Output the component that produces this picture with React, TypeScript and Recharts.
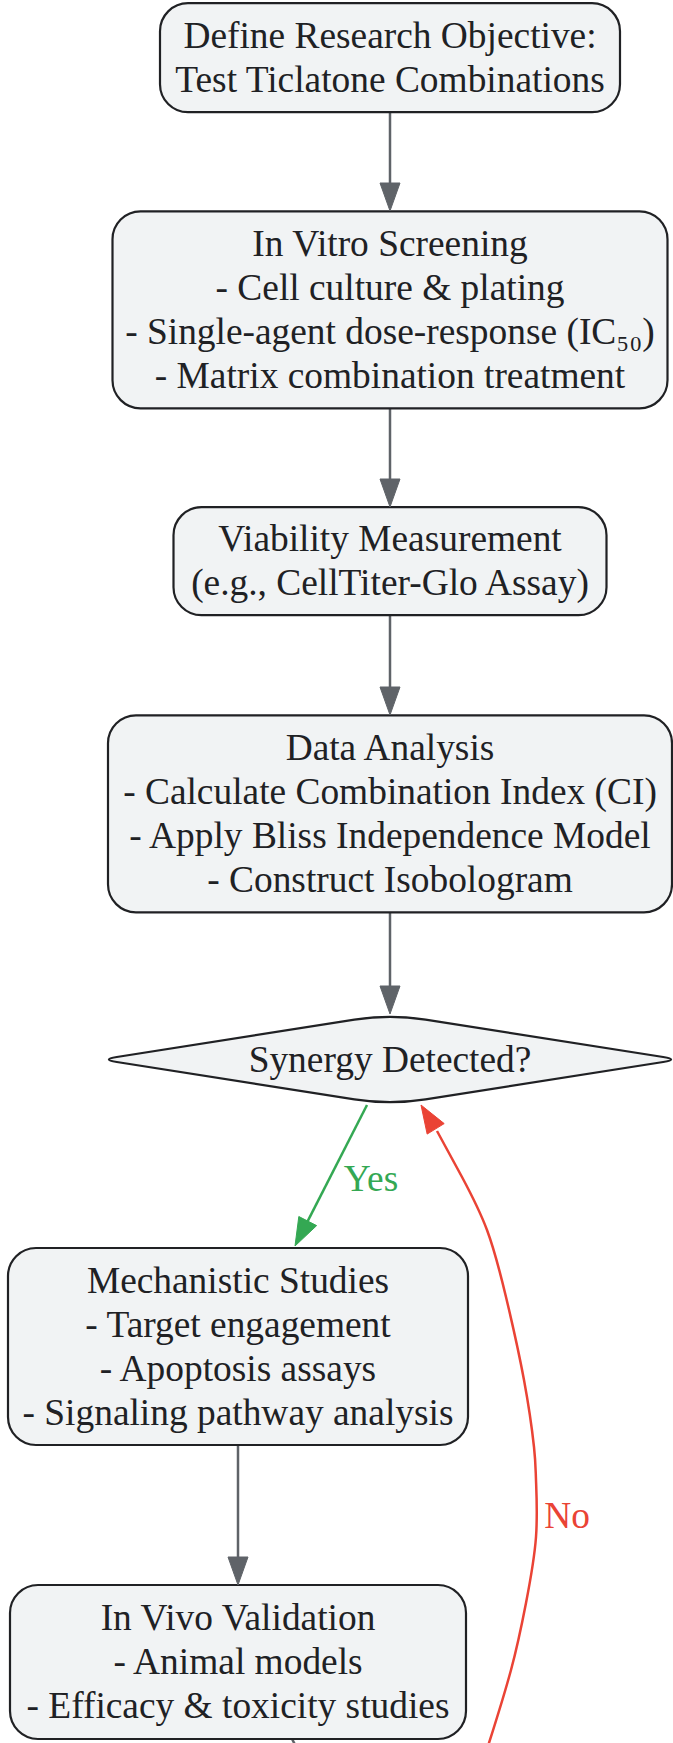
import React from 'react';
import { ComposedChart, XAxis, YAxis, Line, Scatter } from 'recharts';

const W = 673;
const H = 1743;
const FONT = '"Liberation Serif", "Times New Roman", serif';
const FS = 37.4;
const LINE_GAP = 44;

// ---- node content ----
const nodeLabels: string[][] = [
  ['Define Research Objective:', 'Test Ticlatone Combinations'],
  ['In Vitro Screening', '- Cell culture & plating', '- Single-agent dose-response (IC₅₀)', '- Matrix combination treatment'],
  ['Viability Measurement', '(e.g., CellTiter-Glo Assay)'],
  ['Data Analysis', '- Calculate Combination Index (CI)', '- Apply Bliss Independence Model', '- Construct Isobologram'],
  ['Synergy Detected?'],
  ['Mechanistic Studies', '- Target engagement', '- Apoptosis assays', '- Signaling pathway analysis'],
  ['In Vivo Validation', '- Animal models', '- Efficacy & toxicity studies'],
];
const nodeKinds = ['box', 'box', 'box', 'box', 'diamond', 'box', 'box'];
// layout centres (diagram units)
const nodeCenterX = [390, 390, 390, 390, 390, 238, 238];
const nodeCenterY = [57.7, 309.8, 561.2, 813.8, 1059.5, 1346.5, 1662];
// layout sizes
const nodeWidth = [460, 555, 433, 564, 578, 460, 456];
const nodeHeight = [109, 197, 108, 197, 91, 197, 154];

// ---- edges (diagram units), tail -> head ----
const grayEdges: number[][][] = [
  [[390, 112], [390, 211]],
  [[390, 408], [390, 507]],
  [[390, 615], [390, 715]],
  [[390, 912], [390, 1014]],
  [[238, 1445], [238, 1585]],
];
const tailEdge: number[][] = [[292, 1739], [299, 1752]];
const yesEdge: number[][] = [[367, 1105], [295, 1246]];
const noEdge: number[][] = [
  [482, 1765], [489, 1743], [511, 1670], [526, 1603], [536, 1537], [536, 1480],
  [534, 1447], [524, 1380], [506, 1297], [487, 1230], [462, 1177], [437, 1131], [421, 1105],
];
const edgeLabels = [
  { text: 'Yes', x: 371, y: 1180, color: '#34a853' },
  { text: 'No', x: 567, y: 1517, color: '#ea4335' },
];

const GRAY = '#5f6368';
const GREEN = '#34a853';
const RED = '#ea4335';
const ARROW_LEN = 28;
const ARROW_W = 20;

type P = { x: number; y: number };

function shorten(pts: number[][], by: number): { line: P[]; tip: P; ux: number; uy: number } {
  const n = pts.length;
  const [tx, ty] = pts[n - 1];
  const [px, py] = pts[n - 2];
  const d = Math.hypot(tx - px, ty - py);
  const ux = (tx - px) / d;
  const uy = (ty - py) / d;
  const line = pts.slice(0, n - 1).map(([x, y]) => ({ x, y }));
  line.push({ x: tx - ux * by, y: ty - uy * by });
  return { line, tip: { x: tx, y: ty }, ux, uy };
}

const grayProcessed = grayEdges.map((e) => shorten(e, ARROW_LEN - 4));
const yesProcessed = shorten(yesEdge, ARROW_LEN - 4);
const noProcessed = (() => {
  const n = noEdge.length;
  const line = noEdge.slice(0, n - 1).map(([x, y]) => ({ x, y }));
  const [tx, ty] = noEdge[n - 1];
  const [px, py] = noEdge[n - 2];
  const d = Math.hypot(tx - px, ty - py);
  return { line, tip: { x: tx, y: ty }, ux: (tx - px) / d, uy: (ty - py) / d };
})();

const arrowData = [
  ...grayProcessed.map((e) => ({ x: e.tip.x, y: e.tip.y, ux: e.ux, uy: e.uy, color: GRAY })),
  { x: yesProcessed.tip.x, y: yesProcessed.tip.y, ux: yesProcessed.ux, uy: yesProcessed.uy, color: GREEN },
  { x: noProcessed.tip.x, y: noProcessed.tip.y, ux: noProcessed.ux, uy: noProcessed.uy, color: RED },
];

const nodeData = nodeLabels.map((lines, i) => ({
  x: nodeCenterX[i],
  y: nodeCenterY[i],
  lines,
  kind: nodeKinds[i],
  w: nodeWidth[i],
  h: nodeHeight[i],
}));

const labelData = edgeLabels.map((l) => ({ ...l }));

function NodeShape(props: any) {
  const { cx, cy, payload } = props;
  if (cx == null || cy == null) return null;
  const { w, h, lines, kind } = payload;
  const n = lines.length;
  const texts = (
    <text textAnchor="middle" fontFamily={FONT} fontSize={FS} fill="#202124">
      {lines.map((t: string, i: number) => (
        <tspan key={i} x={cx} y={cy + (i - (n - 1) / 2) * LINE_GAP + FS * 0.3 + 1}>
          {t}
        </tspan>
      ))}
    </text>
  );
  if (kind === 'diamond') {
    const l = cx - w / 2;
    const r = cx + w / 2;
    const t = cy - h / 2;
    const b = cy + h / 2;
    const dTB = 36;
    const dLR = 16;
    const pt = (ax: number, ay: number, bx: number, by: number, dist: number) => {
      const dd = Math.hypot(bx - ax, by - ay);
      return [ax + ((bx - ax) / dd) * dist, ay + ((by - ay) / dd) * dist];
    };
    const L = [l, cy], T = [cx, t], R = [r, cy], B = [cx, b];
    const a1 = pt(L[0], L[1], T[0], T[1], dLR);
    const a2 = pt(T[0], T[1], L[0], L[1], dTB);
    const b1 = pt(T[0], T[1], R[0], R[1], dTB);
    const b2 = pt(R[0], R[1], T[0], T[1], dLR);
    const c1 = pt(R[0], R[1], B[0], B[1], dLR);
    const c2 = pt(B[0], B[1], R[0], R[1], dTB);
    const d1 = pt(B[0], B[1], L[0], L[1], dTB);
    const d2 = pt(L[0], L[1], B[0], B[1], dLR);
    const path =
      `M${a1[0]},${a1[1]} L${a2[0]},${a2[1]} Q${T[0]},${T[1]} ${b1[0]},${b1[1]} ` +
      `L${b2[0]},${b2[1]} Q${R[0]},${R[1]} ${c1[0]},${c1[1]} ` +
      `L${c2[0]},${c2[1]} Q${B[0]},${B[1]} ${d1[0]},${d1[1]} ` +
      `L${d2[0]},${d2[1]} Q${L[0]},${L[1]} ${a1[0]},${a1[1]} Z`;
    return (
      <g>
        <path d={path} fill="#f1f3f4" stroke="#202124" strokeWidth={2.2} />
        {texts}
      </g>
    );
  }
  return (
    <g>
      <rect x={cx - w / 2} y={cy - h / 2} width={w} height={h} rx={28} ry={28} fill="#f1f3f4" stroke="#202124" strokeWidth={2.2} />
      {texts}
    </g>
  );
}

function ArrowShape(props: any) {
  const { cx, cy, payload } = props;
  if (cx == null || cy == null) return null;
  const { ux, uy, color } = payload;
  const bx = cx - ux * ARROW_LEN;
  const by = cy - uy * ARROW_LEN;
  const px = -uy * (ARROW_W / 2);
  const py = ux * (ARROW_W / 2);
  return <polygon points={`${cx},${cy} ${bx + px},${by + py} ${bx - px},${by - py}`} fill={color} stroke={color} strokeWidth={1} />;
}

function LabelShape(props: any) {
  const { cx, cy, payload } = props;
  if (cx == null || cy == null) return null;
  return (
    <text x={cx} y={cy + FS * 0.3} textAnchor="middle" fontFamily={FONT} fontSize={FS} fill={payload.color}>
      {payload.text}
    </text>
  );
}

export default function App() {
  return (
    <div style={{ position: 'absolute', left: 0, top: 0, width: W, height: H, background: '#ffffff' }}>
      <ComposedChart width={W} height={H} margin={{ top: 0, right: 0, bottom: 0, left: 0 }}>
        <XAxis type="number" dataKey="x" domain={[0, W]} hide allowDataOverflow />
        <YAxis type="number" dataKey="y" domain={[0, H]} reversed hide allowDataOverflow />
        {grayProcessed.map((e, i) => (
          <Line key={`g${i}`} data={e.line} dataKey="y" type="linear" stroke={GRAY} strokeWidth={2.5} dot={false} activeDot={false} isAnimationActive={false} />
        ))}
        <Line data={tailEdge.map(([x, y]) => ({ x, y }))} dataKey="y" type="linear" stroke={GRAY} strokeWidth={2.5} dot={false} activeDot={false} isAnimationActive={false} />
        <Line data={yesProcessed.line} dataKey="y" type="linear" stroke={GREEN} strokeWidth={2.5} dot={false} activeDot={false} isAnimationActive={false} />
        <Line data={noProcessed.line} dataKey="y" type="natural" stroke={RED} strokeWidth={2.5} dot={false} activeDot={false} isAnimationActive={false} />
        <Scatter data={nodeData} dataKey="y" shape={NodeShape} isAnimationActive={false} />
        <Scatter data={arrowData} dataKey="y" shape={ArrowShape} isAnimationActive={false} />
        <Scatter data={labelData} dataKey="y" shape={LabelShape} isAnimationActive={false} />
      </ComposedChart>
    </div>
  );
}
